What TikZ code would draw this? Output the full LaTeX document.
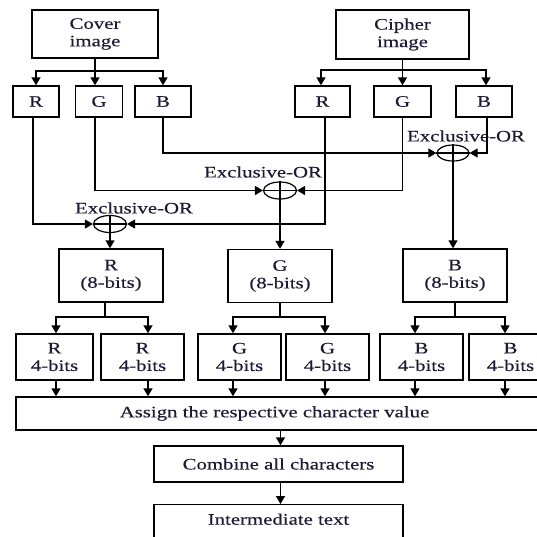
\documentclass[tikz,border=0pt]{standalone}
\usepackage{fontspec}
\setmainfont{Liberation Serif}[FakeStretch=1.3,FakeBold=0.25]
\usetikzlibrary{arrows.meta,shapes.geometric}
\definecolor{ink}{rgb}{0.12,0.10,0.20}
\begin{document}
\begin{tikzpicture}[x=1pt,y=-1pt,
  every node/.style={font=\fontsize{16}{17.5}\selectfont, text=ink},
  box/.style={draw=black, line width=1.4pt, inner sep=0pt, align=center},
  xorgate/.style={draw=black, ellipse, line width=1.2pt, inner sep=0pt,
    minimum width=33pt, minimum height=17pt},
  link/.style={draw=black, line width=1.4pt},
  arr/.style={link, -{Triangle[length=8pt,width=9pt]}}]
\useasboundingbox (0,0) rectangle (537,536);

% sources
\node[box, minimum width=126, minimum height=48] (cover)  at (95,34)    {Cover\\image};
\node[box, minimum width=133, minimum height=49] (cipher) at (402.5,34.5) {Cipher\\image};

% colour planes of the cover image
\node[box, minimum width=46, minimum height=31] (cR) at (36,101.5)  {R};
\node[box, minimum width=47, minimum height=31] (cG) at (99,101.5)  {G};
\node[box, minimum width=56, minimum height=31] (cB) at (163,101.5) {B};
% colour planes of the cipher image
\node[box, minimum width=55, minimum height=31] (pR) at (322.5,101.5) {R};
\node[box, minimum width=57, minimum height=31] (pG) at (402.5,101.5) {G};
\node[box, minimum width=56, minimum height=31] (pB) at (484,101.5)   {B};

\draw[link] (cover.south) -- (95,71) coordinate (cj);
\draw[arr] (cj) -| (cR.north);
\draw[arr] (cj) -| ([xshift=-4]cG.north);
\draw[arr] (cj) -| (cB.north);
\draw[link] (cipher.south) -- (402.5,70) coordinate (pj);
\draw[arr] (pj) -| ([xshift=-1.5]pR.north);
\draw[arr] (pj) -- (pG.north);
\draw[arr] (pj) -| ([xshift=2]pB.north);

% exclusive-or gates
\node[xorgate] (x1) at (110,224)   {};
\node[xorgate] (x2) at (280,190.5) {};
\node[xorgate, minimum width=32pt, minimum height=16pt] (x3) at (453,153) {};
\foreach \g in {x1,x2,x3}{
  \draw[link, line width=1.1pt] (\g.west) -- (\g.east);
  \draw[link, line width=1.1pt] (\g.north) -- (\g.south);
}
\node (l1) at (134,208) {Exclusive-OR};
\node (l2) at (263,172) {Exclusive-OR};
\node (l3) at (466,136) {Exclusive-OR};

\draw[arr] ([xshift=-3]cR.south) |- (x1.west);
\draw[arr] ([xshift=2.5]pR.south) |- (x1.east);
\draw[arr] ([xshift=-4]cG.south) |- (x2.west);
\draw[arr] (pG.south) |- (x2.east);
\draw[arr] (cB.south) |- (x3.west);
\draw[arr] ([xshift=3]pB.south) |- (x3.east);

% 8-bit planes
\node[box, minimum width=104, minimum height=53] (R8) at (111,275.5) {R\\(8-bits)};
\node[box, minimum width=104, minimum height=53] (G8) at (280,276)   {G\\(8-bits)};
\node[box, minimum width=104, minimum height=53] (B8) at (455,275.5) {B\\(8-bits)};

\draw[arr] (x1.south) -- (x1.south |- R8.north);
\draw[arr] (x2.south) -- (x2.south |- G8.north);
\draw[arr] (x3.south) -- (x3.south |- B8.north);

% 4-bit halves
\node[box, minimum width=77, minimum height=46] (R4a) at (54.5,357)  {R\\4-bits};
\node[box, minimum width=83, minimum height=46] (R4b) at (142.5,357) {R\\4-bits};
\node[box, minimum width=83, minimum height=46] (G4a) at (239.5,357) {G\\4-bits};
\node[box, minimum width=83, minimum height=46] (G4b) at (327.5,357) {G\\4-bits};
\node[box, minimum width=83, minimum height=46] (B4a) at (421.5,357) {B\\4-bits};
\node[box, minimum width=83, minimum height=46] (B4b) at (510.5,357) {B\\4-bits};

\draw[link] ([xshift=-6]R8.south) -- (105,317) coordinate (rj);
\draw[arr] (rj) -| ([xshift=1.5]R4a.north);
\draw[arr] (rj) -| ([xshift=5.5]R4b.north);
\draw[link] (G8.south) -- (280,317) coordinate (gj);
\draw[arr] (gj) -| ([xshift=-6.5]G4a.north);
\draw[arr] (gj) -| ([xshift=-2.5]G4b.north);
\draw[link] (B8.south) -- (455,317) coordinate (bj);
\draw[arr] (bj) -| ([xshift=-6.5]B4a.north);
\draw[arr] (bj) -| ([xshift=-5.5]B4b.north);

% character assignment and output
\node[box, minimum width=529, minimum height=33] (assign) at (280.5,413.5)
  {\hspace*{-12pt}Assign the respective character value};
\foreach \b/\s in {R4a/1.5,R4b/5.5,G4a/-6.5,G4b/-2.5,B4a/-6.5,B4b/-5.5}
  \draw[arr] ([xshift=\s]\b.south) -- ([xshift=\s]\b.south |- assign.north);

\node[box, minimum width=249, minimum height=36] (combine) at (278.5,464) {Combine all characters};
\node[box, minimum width=249, anchor=north, inner ysep=4pt, text height=16pt, text depth=30pt]
  (inter) at (278.5,504) {Intermediate text};

\draw[arr] (assign.south) -- (assign.south |- combine.north);
\draw[arr] (assign.south |- combine.south) -- (assign.south |- inter.north);
\end{tikzpicture}
\end{document}
